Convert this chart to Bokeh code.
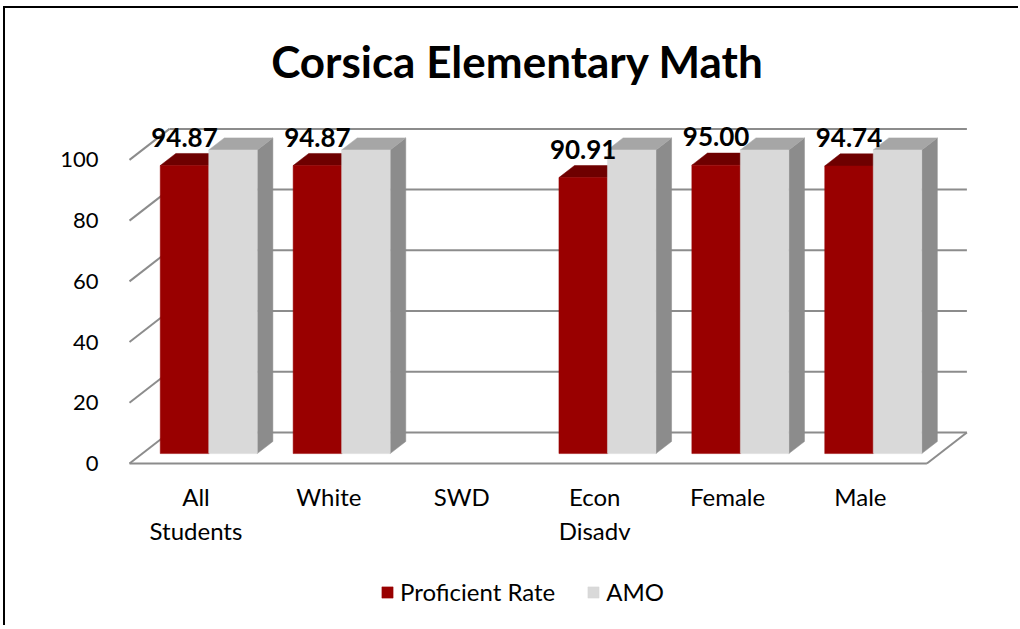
from bokeh.plotting import figure
from bokeh.models import (Range1d, LinearAxis, FixedTicker, Legend, LegendItem, Label)
from bokeh.core.properties import value
from bokeh.embed import file_html
from bokeh.resources import INLINE

# ---------------- data ----------------
categories = ["All Students", "White", "SWD", "Econ Disadv", "Female", "Male"]
category_labels = ["All\nStudents", "White", "SWD", "Econ\nDisadv", "Female", "Male"]
proficient_rate = [94.87, 94.87, None, 90.91, 95.00, 94.74]
amo = [100, 100, None, 100, 100, 100]
y_ticks = [0, 20, 40, 60, 80, 100]
series_names = ["Proficient Rate", "AMO"]
title_text = "Corsica Elementary Math"

# ---------------- layout / style ----------------
FONT = "Lato"
W, H = 1015, 619
LEFT = 108                      # left panel (y axis) width
PX_X = 132.9                    # px per category
PX_Y = 3.036                    # px per value unit
ORIGIN_X = 124                  # figure px of floor front-left corner
ORIGIN_Y = 455                  # figure px of floor front edge
DX = 40 / PX_X                  # depth offset (x units) for full floor depth
DY = 31 / PX_Y                  # depth offset (y units) for full floor depth
BAR_GAP, BAR_W = 0.135, 0.365
DF, DB = 0.32, 0.71             # bar front/back depth fractions

RED_FRONT, RED_TOP, RED_SIDE = "#990000", "#6e0000", "#7a0000"
GREY_FRONT, GREY_TOP, GREY_SIDE = "#d9d9d9", "#a6a6a6", "#8c8c8c"
GRID = "#8c8c8c"

n = len(categories)


def X(x, d):
    return x + d * DX


def Y(y, d):
    return y + d * DY


def bar_faces(x0, x1, v):
    front = ([X(x0, DF), X(x1, DF), X(x1, DF), X(x0, DF)],
             [Y(0, DF), Y(0, DF), Y(v, DF), Y(v, DF)])
    top = ([X(x0, DF), X(x1, DF), X(x1, DB), X(x0, DB)],
           [Y(v, DF), Y(v, DF), Y(v, DB), Y(v, DB)])
    side = ([X(x1, DF), X(x1, DB), X(x1, DB), X(x1, DF)],
            [Y(0, DF), Y(0, DB), Y(v, DB), Y(v, DF)])
    return front, top, side


def faces_for(values, offset):
    out = {"front": ([], []), "top": ([], []), "side": ([], [])}
    for i, v in enumerate(values):
        if v is None:
            continue
        x0 = i + BAR_GAP + offset
        x1 = x0 + BAR_W
        f, t, s = bar_faces(x0, x1, v)
        for key, face in (("front", f), ("top", t), ("side", s)):
            out[key][0].append(face[0])
            out[key][1].append(face[1])
    return out


p = figure(width=W, height=H,
           x_range=Range1d((LEFT - ORIGIN_X) / PX_X, (W - ORIGIN_X) / PX_X),
           y_range=Range1d(-(H - ORIGIN_Y) / PX_Y, ORIGIN_Y / PX_Y),
           x_axis_type=None, y_axis_type=None,
           output_backend="svg", toolbar_location=None, tools="",
           min_border_left=LEFT, min_border_right=0, min_border_top=0,
           min_border_bottom=0, outline_line_color=None,
           background_fill_color="white", border_fill_color="white")
# outer chart-area border (left and top edges visible in the window)
p.styles = {"margin-left": "5px", "margin-top": "8px",
            "box-shadow": "-2px -2px 0 0 #000000"}

yaxis = LinearAxis(ticker=FixedTicker(ticks=y_ticks),
                   axis_line_color=None, major_tick_line_color=None,
                   minor_tick_line_color=None,
                   major_label_text_font=FONT,
                   major_label_text_font_size="22px",
                   major_label_text_color="black",
                   major_label_standoff=9)
p.add_layout(yaxis, "left")

# back wall gridlines, side-wall diagonals, floor
gx = [[X(0, 1), X(n, 1)] for t in y_ticks]
gy = [[Y(t, 1), Y(t, 1)] for t in y_ticks]
p.multi_line(gx, gy, line_color=GRID, line_width=2)
sx = [[X(0, 0), X(0, 1)] for t in y_ticks]
sy = [[Y(t, 0), Y(t, 1)] for t in y_ticks]
p.multi_line(sx, sy, line_color=GRID, line_width=2)
p.multi_line([[X(0, 0), X(n, 0)], [X(n, 0), X(n, 1)]],
             [[Y(0, 0), Y(0, 0)], [Y(0, 0), Y(0, 1)]],
             line_color=GRID, line_width=2)

red = faces_for(proficient_rate, 0.0)
grey = faces_for(amo, BAR_W)

p.patches(red["side"][0], red["side"][1], fill_color=RED_SIDE, line_color=RED_SIDE, line_width=0.5)
p.patches(red["top"][0], red["top"][1], fill_color=RED_TOP, line_color=RED_TOP, line_width=0.5)
red_front = p.patches(red["front"][0], red["front"][1], fill_color=RED_FRONT,
                      line_color=RED_FRONT, line_width=0.5)
p.patches(grey["side"][0], grey["side"][1], fill_color=GREY_SIDE, line_color=GREY_SIDE, line_width=0.5)
p.patches(grey["top"][0], grey["top"][1], fill_color=GREY_TOP, line_color=GREY_TOP, line_width=0.5)
grey_front = p.patches(grey["front"][0], grey["front"][1], fill_color=GREY_FRONT,
                       line_color=GREY_FRONT, line_width=0.5)

# data labels
lx, ly, lt = [], [], []
for i, v in enumerate(proficient_rate):
    if v is None:
        continue
    lx.append(X(i + BAR_GAP + BAR_W / 2, DF))
    ly.append(Y(v, DF) + 28.5 / PX_Y)
    lt.append("%.2f" % v)
p.text(x=lx, y=ly, text=lt, text_align="center", text_baseline="middle",
       text_font=value(FONT), text_font_style="bold", text_font_size="26px",
       text_color="black")

# category labels
p.text(x=[i + 0.5 for i in range(n)], y=[-18 / PX_Y] * n, text=category_labels,
       text_align="center", text_baseline="top", text_font=value(FONT),
       text_font_size="24px", text_color="black", text_line_height=1.18)

# title
p.add_layout(Label(x=404, y=(8 + H) - 60, x_units="screen", y_units="screen",
                   text=title_text, text_align="center", text_baseline="middle",
                   text_font=FONT, text_font_style="bold", text_font_size="44px",
                   text_color="black"))

legend = Legend(items=[LegendItem(label=series_names[0], renderers=[red_front]),
                       LegendItem(label=series_names[1], renderers=[grey_front])],
                orientation="horizontal", location=(267, 21), padding=0, margin=0,
                spacing=31, glyph_width=14, glyph_height=14, label_standoff=6,
                label_text_font=FONT, label_text_font_size="24px",
                label_text_color="black",
                border_line_color=None, background_fill_alpha=0)
p.add_layout(legend)

open("out.html", "w").write(file_html(p, INLINE))
